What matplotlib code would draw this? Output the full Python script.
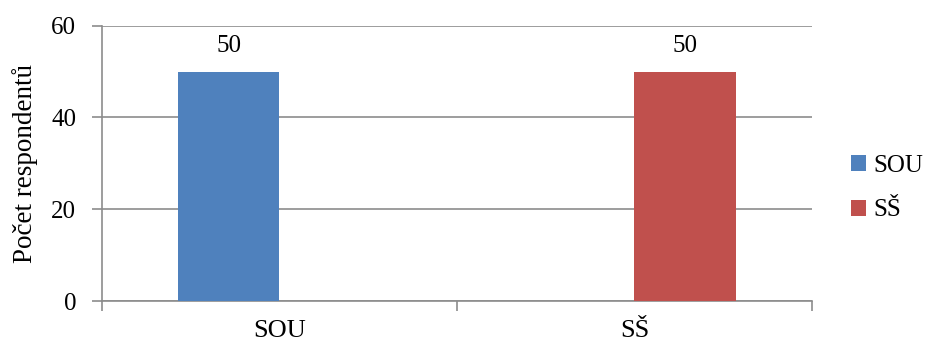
import matplotlib.pyplot as plt
import numpy as np

plt.rcParams['font.family'] = ['Liberation Serif', 'DejaVu Serif']

categories = ['SOU', 'SŠ']
series_names = ['SOU', 'SŠ']
sou_values = [50, 0]
ss_values = [0, 50]
colors = ['#4F81BD', '#C0504D']

fs = 18

fig = plt.figure(figsize=(9.28, 3.46), dpi=100)
ax = fig.add_axes([0.1099, 0.130, 0.765, 0.7957])

x = np.arange(len(categories))
w = 0.287
for vals, name, col, off in zip([sou_values, ss_values], series_names, colors, [-w / 2, w / 2]):
    bars = ax.bar(x + off, vals, w, color=col, label=name, zorder=3)
    for b, v in zip(bars, vals):
        if v:
            ax.text(b.get_x() + b.get_width() / 2, v + 3.2, str(v),
                    ha='center', va='bottom', fontsize=fs)

ax.set_xlim(-0.5, 1.5)
ax.set_ylim(0, 60)
ax.set_yticks([0, 20, 40, 60])
ax.yaxis.grid(True, color='#8c8c8c', linewidth=1.2, zorder=0)
ax.set_axisbelow(True)

ax.set_xticks(x)
ax.set_xticklabels(categories)
ax.set_xticks([-0.5, 0.5, 1.5], minor=True)
ax.tick_params(axis='x', which='major', length=0, pad=14, labelsize=19)
ax.tick_params(axis='x', which='minor', length=7, width=1.2, color='#8c8c8c')
ax.tick_params(axis='y', length=7, width=1.2, color='#8c8c8c', pad=11.5, labelsize=fs)

for s in ['top', 'right']:
    ax.spines[s].set_visible(False)
for s in ['left', 'bottom']:
    ax.spines[s].set_color('#8c8c8c')
    ax.spines[s].set_linewidth(1.2)

ax.set_ylabel('Počet respondentů', fontsize=19.5, labelpad=9.5)

ax.legend(loc='center left', bbox_to_anchor=(1.023, 0.41), frameon=False,
          fontsize=fs, handlelength=0.6, handleheight=0.6, handletextpad=0.3,
          labelspacing=0.9)

fig.savefig('out.png', dpi=100)
